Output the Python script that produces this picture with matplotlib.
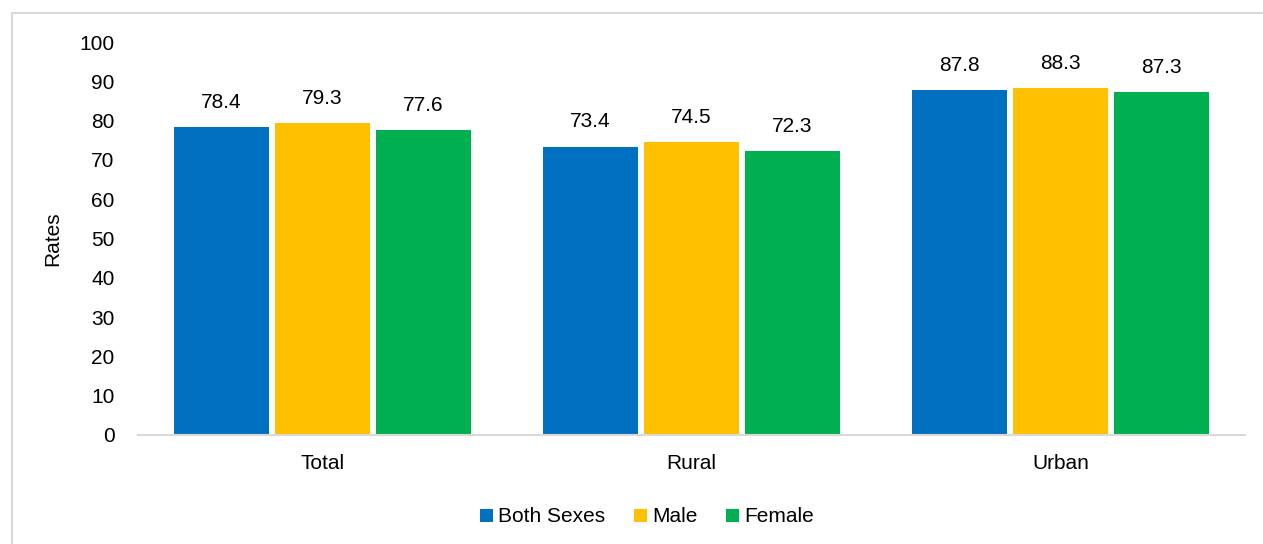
import matplotlib

matplotlib.use("Agg")
import matplotlib.pyplot as plt
from matplotlib import font_manager
from matplotlib.patches import Rectangle
import numpy as np

names = {f.name for f in font_manager.fontManager.ttflist}
FONT = "Liberation Sans Narrow" if "Liberation Sans Narrow" in names else "Liberation Sans"
plt.rcParams["font.family"] = [FONT, "DejaVu Sans"]
FS = 17.5 if FONT == "Liberation Sans Narrow" else 15

CATEGORIES = ["Total", "Rural", "Urban"]
SERIES = ["Both Sexes", "Male", "Female"]
BOTH = [78.4, 73.4, 87.8]
MALE = [79.3, 74.5, 88.3]
FEMALE = [77.6, 72.3, 87.3]
Y_TICKS = list(range(0, 101, 10))

COLORS = ["#0070C0", "#FFC000", "#00B050"]

fig = plt.figure(figsize=(12.63, 5.44), dpi=100)
fig.patches.append(
    Rectangle((12 / 1263, -0.05), 1.2, 1 - 13 / 544 + 0.05,
              transform=fig.transFigure, facecolor="none",
              edgecolor="#d9d9d9", linewidth=1.5, zorder=0)
)
ax = fig.add_axes([138 / 1263, 1 - 435 / 544, (1245 - 138) / 1263, (435 - 42) / 544])

x = np.arange(len(CATEGORIES))
width = 0.258
step = 0.274
for i, (name, vals) in enumerate(zip(SERIES, [BOTH, MALE, FEMALE])):
    pos = x + (i - 1) * step
    bars = ax.bar(pos, vals, width, color=COLORS[i], label=name, zorder=2)
    for b, v in zip(bars, vals):
        ax.annotate(f"{v:.1f}", (b.get_x() + b.get_width() / 2, v),
                    xytext=(0, 11), textcoords="offset points",
                    ha="center", va="bottom", fontsize=FS, color="#000000")

ax.set_xlim(-0.5, 2.5)
ax.set_ylim(0, 100)
ax.set_yticks(Y_TICKS)
ax.set_xticks(x)
ax.set_xticklabels(CATEGORIES)
ax.tick_params(axis="both", length=0, labelsize=FS)
ax.tick_params(axis="y", pad=17)
ax.tick_params(axis="x", pad=14)
for s in ("top", "right", "left"):
    ax.spines[s].set_visible(False)
ax.spines["bottom"].set_color("#d9d9d9")
ax.spines["bottom"].set_linewidth(1.5)
ax.set_ylabel("Rates", fontsize=FS, labelpad=12)

fig.legend(loc="center", bbox_to_anchor=(647 / 1263, 1 - 517 / 544), ncol=3,
           frameon=False, fontsize=FS, handlelength=0.6, handleheight=0.6,
           handletextpad=0.25, columnspacing=1.4)

fig.savefig("out.png", dpi=100)
